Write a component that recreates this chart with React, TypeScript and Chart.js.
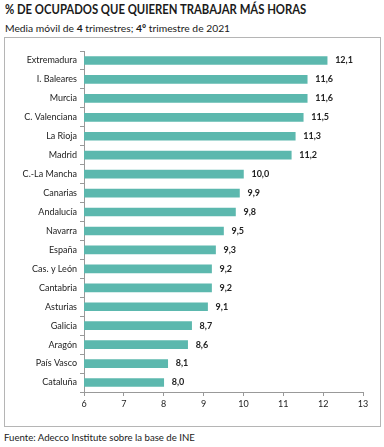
import React, { useEffect, useRef } from "react";
import { Chart, registerables } from "chart.js";

Chart.register(...registerables);

const categories = [
  "Extremadura", "I. Baleares", "Murcia", "C. Valenciana", "La Rioja", "Madrid",
  "C.-La Mancha", "Canarias", "Andalucía", "Navarra", "España", "Cas. y León",
  "Cantabria", "Asturias", "Galicia", "Aragón", "País Vasco", "Cataluña",
];
const values = [12.1, 11.6, 11.6, 11.5, 11.3, 11.2, 10.0, 9.9, 9.8, 9.5, 9.3, 9.2, 9.2, 9.1, 8.7, 8.6, 8.1, 8.0];
const xTicks = [6, 7, 8, 9, 10, 11, 12, 13];

const FONT = "Lato, 'Liberation Sans', sans-serif";

const valueLabels = {
  id: "valueLabels",
  afterDatasetsDraw(chart: any) {
    const ctx = chart.ctx;
    const meta = chart.getDatasetMeta(0);
    ctx.save();
    ctx.font = `bold 9px ${FONT}`;
    ctx.fillStyle = "#222";
    ctx.textBaseline = "middle";
    ctx.textAlign = "left";
    meta.data.forEach((el: any, i: number) => {
      const v = values[i];
      ctx.fillText(v.toFixed(1).replace(".", ","), el.x + 8, el.y);
    });
    ctx.restore();
  },
};

export default function App() {
  const ref = useRef<HTMLCanvasElement>(null);
  useEffect(() => {
    if (!ref.current) return;
    const chart = new Chart(ref.current, {
      type: "bar",
      data: {
        labels: categories,
        datasets: [
          {
            data: values,
            backgroundColor: "#5cb8ae",
            borderWidth: 0,
            barThickness: 8,
          },
        ],
      },
      plugins: [valueLabels],
      options: {
        indexAxis: "y",
        animation: false,
        responsive: false,
        maintainAspectRatio: false,
        layout: { padding: { left: 0, right: 17, top: 13, bottom: 4 } },
        plugins: { legend: { display: false }, tooltip: { enabled: false }, title: { display: false } },
        scales: {
          x: {
            min: 6,
            max: 13,
            afterBuildTicks(scale: any) {
              scale.ticks = xTicks.map((v) => ({ value: v }));
            },
            afterFit(scale: any) {
              scale.height = 30;
            },
            grid: { drawOnChartArea: false, drawTicks: true, tickLength: 4, color: "#999" },
            border: { display: true, color: "#999" },
            ticks: { font: { family: FONT, size: 9 }, color: "#222", padding: 3 },
          },
          y: {
            afterFit(scale: any) {
              scale.width = 79;
            },
            grid: { drawOnChartArea: false, drawTicks: true, tickLength: 4, color: "#999", offset: true },
            border: { display: true, color: "#999" },
            ticks: { font: { family: FONT, size: 9 }, color: "#222", padding: 3, autoSkip: false },
          },
        },
      },
    });
    return () => chart.destroy();
  }, []);

  return (
    <div style={{ position: "fixed", left: 0, top: 0, width: 384, height: 447, background: "#fff", fontFamily: FONT }}>
      <div
        style={{
          position: "absolute",
          left: 5,
          top: 1,
          fontSize: 13,
          fontWeight: "bold",
          color: "#1a1a1a",
          whiteSpace: "nowrap",
          transform: "scaleX(0.87)",
          transformOrigin: "left center",
        }}
      >
        % DE OCUPADOS QUE QUIEREN TRABAJAR MÁS HORAS
      </div>
      <div style={{ position: "absolute", left: 5, top: 22, fontSize: 10.3, color: "#1a1a1a", whiteSpace: "nowrap" }}>
        Media móvil de <b>4</b> trimestres; <b>4º</b> trimestre de 2021
      </div>
      <div style={{ position: "absolute", left: 4, top: 37, width: 375, height: 388, border: "1px solid #b5b5b5" }}>
        <canvas ref={ref} width={375} height={388} style={{ display: "block", width: 375, height: 388 }} />
      </div>
      <div style={{ position: "absolute", left: 4, top: 432, fontSize: 9.6, color: "#1a1a1a", whiteSpace: "nowrap" }}>
        Fuente: Adecco Institute sobre la base de INE
      </div>
    </div>
  );
}
